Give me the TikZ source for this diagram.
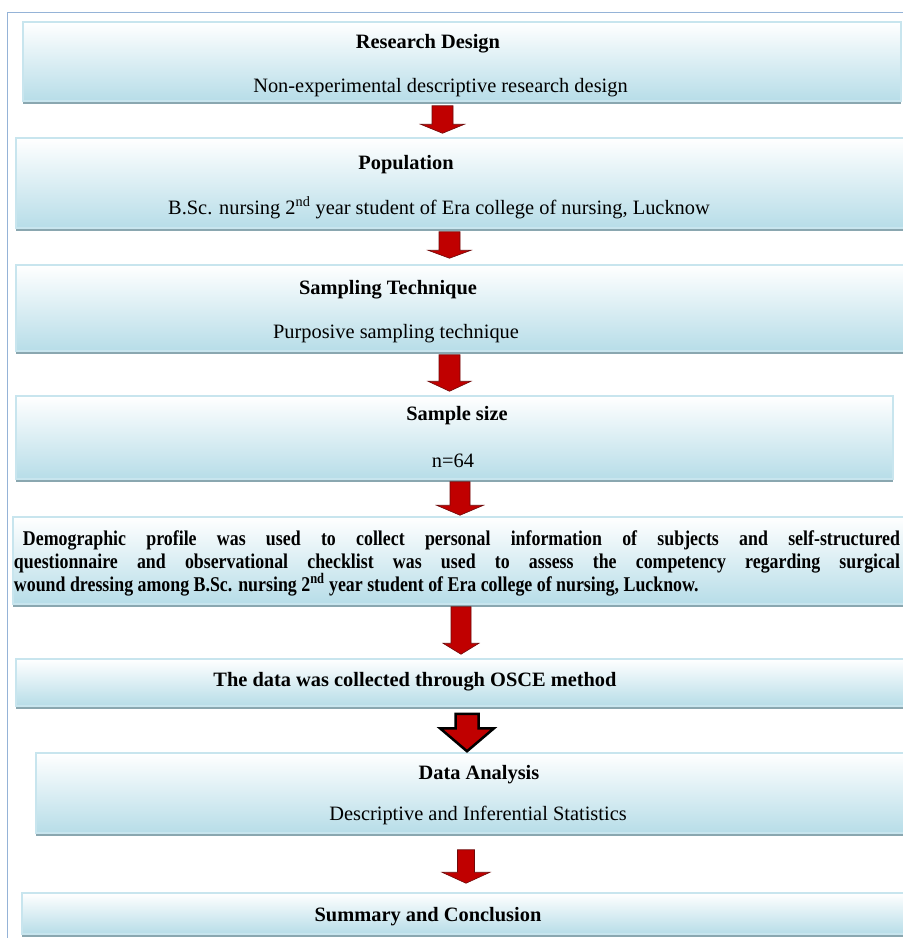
\documentclass[tikz,border=0pt]{standalone}
\usepackage{fontspec}
\setmainfont{Liberation Serif}
\newfontfamily\narrowserif{Liberation Serif}[FakeStretch=0.85]
\usetikzlibrary{calc, shadows, positioning}

\definecolor{boxfill}{RGB}{183,221,232}
\definecolor{boxline}{RGB}{200,229,238}
\definecolor{boxshade}{RGB}{138,167,176}
\definecolor{framelin}{RGB}{149,179,215}
\definecolor{arrowred}{RGB}{192,0,0}
\definecolor{arrowedge}{RGB}{110,10,10}

\tikzset{
  stage/.style={rectangle, draw=boxline, line width=1.5pt, top color=white, bottom color=boxfill, inner sep=0pt,
    drop shadow={shadow xshift=0pt, shadow yshift=-2.5pt, fill=boxshade, opacity=1}},
  head/.style={font=\fontsize{20.4}{24}\selectfont\bfseries, anchor=base, inner sep=0pt},
  body/.style={font=\fontsize{20.4}{24}\selectfont, anchor=base, inner sep=0pt},
  blockarrow/.style={fill=arrowred, draw=arrowedge, line width=0.6pt, line join=miter},
  arrowsize/.code n args={5}{\def\sw{#1}\def\hw{#2}\def\hl{#3}\def\ga{#4}\def\gb{#5}}
}

% block arrow: [sizes]{x}{from node}{to node}
\newcommand{\flowarrow}[4][]{%
  \filldraw[blockarrow,#1] let \p1=(#2,0 |- #3.south), \p2=(#2,0 |- #4.north) in
    ({\x1-\sw pt},{\y1-\ga pt}) -- ({\x1+\sw pt},{\y1-\ga pt})
    -- ({\x1+\sw pt},{\y2+\gb pt+\hl pt}) -- ({\x1+\hw pt},{\y2+\gb pt+\hl pt})
    -- (\x1,{\y2+\gb pt}) -- ({\x1-\hw pt},{\y2+\gb pt+\hl pt})
    -- ({\x1-\sw pt},{\y2+\gb pt+\hl pt}) -- cycle;}

\begin{document}
\begin{tikzpicture}[x=1pt, y=-1pt]
  \useasboundingbox (0,0) rectangle (903,938);
  \draw[framelin, line width=1pt] (7,940) -- (7,12) -- (905,12);

  % Stages
  \node[stage, minimum width=878pt, minimum height=79pt] (rd) at (462,61.5) {};
  \node[stage, minimum width=890pt, minimum height=90pt] (pop) at (461,183) {};
  \node[stage, minimum width=890pt, minimum height=86pt] (samp) at (461,308) {};
  \node[stage, minimum width=877pt, minimum height=83pt] (ssize) at (454.5,437.5) {};
  \node[stage, minimum width=893pt, minimum height=87pt] (tool) at (459.5,560.5) {};
  \node[stage, minimum width=890pt, minimum height=47pt] (osce) at (461,682.5) {};
  \node[stage, minimum width=870pt, minimum height=80pt] (anal) at (471,793) {};
  \node[stage, minimum width=884pt, minimum height=41pt] (summ) at (464,913.5) {};

  % Labels
  \node[head] (rdt) at (428,48) {Research Design};
  \node[body] (rdb) at (440.5,92) {Non-experimental descriptive research design};
  \node[head] (popt) at (406,169) {Population};
  \node[body] (popb) at (439,214) {B.Sc. nursing 2\textsuperscript{nd} year student of Era college of nursing, Lucknow};
  \node[head] (sampt) at (388,294) {Sampling Technique};
  \node[body] (sampb) at (396,338) {Purposive sampling technique};
  \node[head] (ssizet) at (457,420) {Sample size};
  \node[body] (ssizeb) at (453,467) {n=64};
  \node[text width=886pt, align=justify, inner sep=0pt,
        font=\narrowserif\bfseries\fontsize{21}{23}\selectfont] (toolt) at (457,563)
    {\tolerance=10000 \hspace*{9pt}Demographic profile was used to collect personal information of subjects and self-structured\linebreak
     questionnaire and observational checklist was used to assess the competency regarding surgical\linebreak
     wound dressing among B.Sc. nursing 2\textsuperscript{nd} year student of Era college of nursing, Lucknow.\par};
  \node[head] (oscet) at (415,686) {The data was collected through OSCE method};
  \node[head] (analt) at (479,779) {Data Analysis};
  \node[body] (analb) at (478,820) {Descriptive and Inferential Statistics};
  \node[head] (summt) at (428,921) {Summary and Conclusion};

  % Arrows
  \flowarrow[arrowsize={10.5}{22}{9}{4}{4}]{442.5}{rd}{pop}
  \flowarrow[arrowsize={10.5}{21.5}{8}{3}{6}]{449.5}{pop}{samp}
  \flowarrow[arrowsize={10.5}{21.5}{10}{3}{4}]{449.5}{samp}{ssize}
  \flowarrow[arrowsize={10}{23.5}{10}{2}{1}]{460}{ssize}{tool}
  \flowarrow[arrowsize={10}{18}{11}{2}{4}]{461}{tool}{osce}
  \flowarrow[arrowsize={11.5}{27}{23}{7}{1}, draw=black, line width=2.5pt]{467}{osce}{anal}
  \flowarrow[arrowsize={8.5}{24}{11}{16}{9}]{466}{anal}{summ}
\end{tikzpicture}
\end{document}
